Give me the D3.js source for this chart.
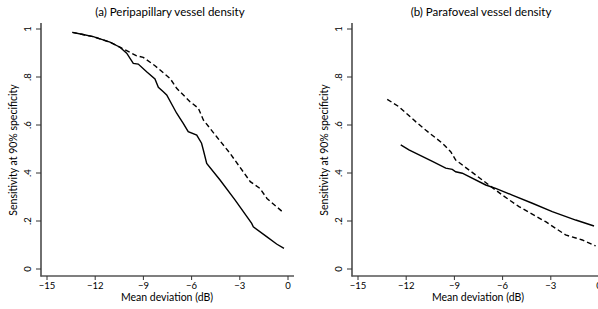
<!DOCTYPE html>
<html>
<head>
<meta charset="utf-8">
<script src="https://cdn.jsdelivr.net/npm/d3@7"></script>
<style>
  body { margin: 0; background: #fff; }
  svg { display: block; font-family: Lato, "Open Sans", sans-serif; }
</style>
</head>
<body>
<div id="chart"></div>
<script>
// mean deviation (dB) and sensitivity at 90% specificity
const peripSolidMD  = [-13.42, -12.84, -12.12, -11.08, -10.46, -10.04, -9.63, -9.32, -8.80, -8.28, -8.07, -7.76, -7.55, -6.93, -6.52, -6.21, -5.68, -5.38, -5.27, -5.06, -4.23, -3.30, -2.26, -2.16, -1.33, -0.71, -0.25];
const peripSolidSen = [0.986, 0.978, 0.968, 0.945, 0.924, 0.899, 0.857, 0.854, 0.822, 0.792, 0.757, 0.739, 0.725, 0.649, 0.607, 0.572, 0.558, 0.524, 0.496, 0.440, 0.371, 0.288, 0.190, 0.176, 0.135, 0.104, 0.086];
const peripDashMD   = [-13.42, -12.84, -12.12, -11.08, -10.40, -9.42, -9.01, -8.28, -7.34, -6.93, -6.10, -5.58, -5.27, -4.44, -3.61, -2.35, -1.75, -1.31, -0.25];
const peripDashSen  = [0.986, 0.978, 0.968, 0.945, 0.922, 0.888, 0.882, 0.847, 0.794, 0.753, 0.697, 0.670, 0.621, 0.551, 0.482, 0.364, 0.336, 0.294, 0.233];

const paraSolidMD   = [-12.34, -11.83, -10.37, -9.54, -9.13, -8.92, -8.51, -7.05, -6.43, -5.40, -4.15, -2.91, -1.45, -0.31];
const paraSolidSen  = [0.517, 0.496, 0.448, 0.420, 0.415, 0.405, 0.399, 0.350, 0.336, 0.308, 0.274, 0.239, 0.204, 0.179];
const paraDashMD    = [-13.18, -12.45, -11.41, -10.79, -9.75, -9.23, -8.92, -7.68, -6.85, -6.02, -4.98, -3.32, -2.08, -1.04, -0.21];
const paraDashSen   = [0.707, 0.676, 0.614, 0.579, 0.524, 0.489, 0.454, 0.392, 0.350, 0.308, 0.260, 0.197, 0.142, 0.121, 0.096];

const xTicks = [-15, -12, -9, -6, -3, 0];
const yTicks = [0, 0.2, 0.4, 0.6, 0.8, 1];
const yTickLabels = ['0', '.2', '.4', '.6', '.8', '1'];

const panels = [
  { title: '(a) Peripapillary vessel density', solid: [peripSolidMD, peripSolidSen], dash: [peripDashMD, peripDashSen] },
  { title: '(b) Parafoveal vessel density', solid: [paraSolidMD, paraSolidSen], dash: [paraDashMD, paraDashSen] }
];

const width = 598, height = 309;
const panelStep = 311;

const svg = d3.select('#chart').append('svg')
  .attr('width', width)
  .attr('height', height);

const yScale = d3.scaleLinear().domain([0, 1]).range([269, 29]);
const xScale = d3.scaleLinear().domain([-15, 0]).range([47, 288]);

panels.forEach((p, i) => {
  const g = svg.append('g').attr('transform', 'translate(' + (i * panelStep) + ',0)');

  // Title
  g.append('text')
    .attr('x', 170).attr('y', 16)
    .attr('text-anchor', 'middle')
    .style('font-size', '11.5px')
    .text(p.title);

  // y axis
  g.append('line')
    .attr('x1', 41).attr('x2', 41).attr('y1', 23).attr('y2', 276.5)
    .attr('stroke', '#222').attr('stroke-width', 1.3);
  g.selectAll('.ytick').data(yTicks).enter().append('line')
    .attr('x1', 36).attr('x2', 41)
    .attr('y1', d => yScale(d)).attr('y2', d => yScale(d))
    .attr('stroke', '#333').attr('stroke-width', 1);
  g.selectAll('.ylab').data(yTicks).enter().append('text')
    .attr('transform', (d) => 'translate(31,' + yScale(d) + ') rotate(-90)')
    .attr('text-anchor', 'middle')
    .style('font-size', '9.5px')
    .text((d, j) => yTickLabels[j]);

  g.append('text')
    .attr('transform', 'translate(17,150) rotate(-90)')
    .attr('text-anchor', 'middle')
    .style('font-size', '10.5px')
    .text('Sensitivity at 90% specificity');

  // x axis
  g.append('line')
    .attr('x1', 40.5).attr('x2', 294).attr('y1', 276).attr('y2', 276)
    .attr('stroke', '#555').attr('stroke-width', 1.5);
  g.selectAll('.xtick').data(xTicks).enter().append('line')
    .attr('x1', d => xScale(d)).attr('x2', d => xScale(d))
    .attr('y1', 276).attr('y2', 280)
    .attr('stroke', '#333').attr('stroke-width', 1);
  g.selectAll('.xlab').data(xTicks).enter().append('text')
    .attr('x', d => xScale(d)).attr('y', 289)
    .attr('text-anchor', 'middle')
    .style('font-size', '9.5px')
    .text(d => d < 0 ? '\u2212' + Math.abs(d) : String(d));

  g.append('text')
    .attr('x', 167).attr('y', 301)
    .attr('text-anchor', 'middle')
    .style('font-size', '10.5px')
    .text('Mean deviation (dB)');

  // curves
  const line = d3.line()
    .x(d => xScale(d[0]))
    .y(d => yScale(d[1]));

  g.append('path')
    .datum(d3.zip(p.dash[0], p.dash[1]))
    .attr('d', line)
    .attr('fill', 'none')
    .attr('stroke', '#000')
    .attr('stroke-width', 1.4)
    .attr('stroke-dasharray', '5,3');

  g.append('path')
    .datum(d3.zip(p.solid[0], p.solid[1]))
    .attr('d', line)
    .attr('fill', 'none')
    .attr('stroke', '#000')
    .attr('stroke-width', 1.4);
});
</script>
</body>
</html>
